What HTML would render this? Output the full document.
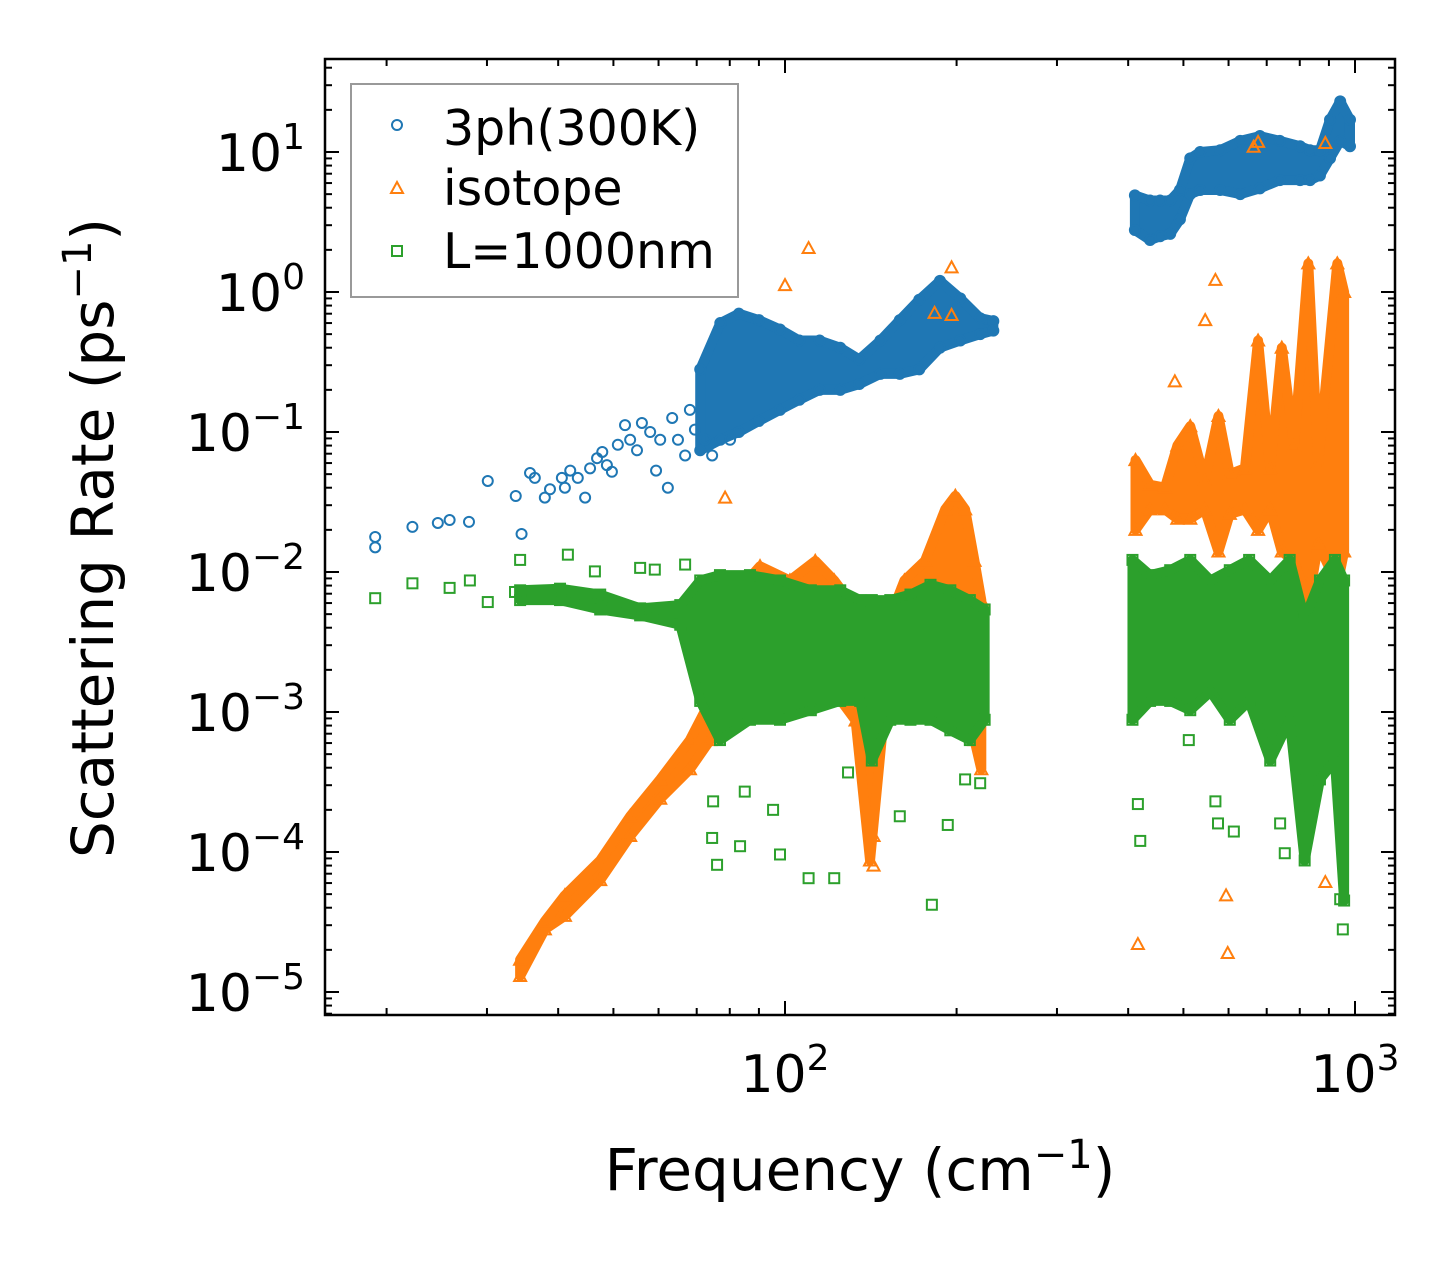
<!DOCTYPE html>
<html><head><meta charset="utf-8"><style>
body{margin:0;background:#fff;}
svg{display:block;font-family:"DejaVu Sans","Liberation Sans",sans-serif;}
</style></head><body>
<svg id="chart" width="1455" height="1265" viewBox="0 0 1455 1265" xmlns="http://www.w3.org/2000/svg">
<rect width="1455" height="1265" fill="#fff"/>
<g id="bands"></g><g id="marks"></g><g id="axes"></g>
<g>
<rect x="351" y="84" width="387" height="213" fill="#fff" fill-opacity="0.8" stroke="#999" stroke-width="2"/>
<circle cx="397" cy="125" r="5" fill="none" stroke="#1f77b4" stroke-width="2"/>
<text x="443" y="145" font-size="49">3ph(300K)</text>
<path d="M391,193 L397,182 L403,193 Z" fill="none" stroke="#ff7f0e" stroke-width="2"/>
<text x="443" y="205" font-size="49">isotope</text>
<rect x="392" y="246" width="10" height="10" fill="none" stroke="#2ca02c" stroke-width="2"/>
<text x="443" y="268" font-size="49">L=1000nm</text>
</g>
</svg>
<script>
// ---- data ----
const blueSparseF=[19.1,19.1,22.2,24.6,25.8,27.9,30.1,33.7,34.5,35.7,36.4,37.9,38.7,40.6,41.1,42.0,43.3,44.6,45.5,46.8,47.8,48.7,49.7,50.9,52.4,53.5,55.0,56.1,58.0,59.4,60.4,62.3,63.4,64.9,66.8,68.1,69.5,72.4,74.5,80.1];
const blueSparseR=[0.0178,0.015,0.021,0.0224,0.0235,0.0228,0.0447,0.0349,0.0187,0.051,0.047,0.034,0.039,0.047,0.04,0.053,0.047,0.034,0.055,0.065,0.072,0.058,0.052,0.081,0.112,0.088,0.074,0.116,0.1,0.053,0.088,0.04,0.126,0.088,0.068,0.144,0.104,0.088,0.068,0.088];
const blueBandF=[71,77,83,90,98,106,115,125,135,147,159,172,187,203,220,232];
const blueBandLo=[0.074,0.088,0.1,0.12,0.144,0.17,0.2,0.2,0.22,0.26,0.26,0.28,0.4,0.45,0.5,0.53];
const blueBandHi=[0.28,0.6,0.7,0.63,0.54,0.45,0.45,0.4,0.33,0.45,0.63,0.88,1.2,0.9,0.65,0.62];
const blueHiF=[411,437,455,474,493,514,535,580,629,681,738,801,834,868,904,942,980];
const blueHiLo=[2.77,2.35,2.5,2.6,3.3,5,5.35,5.35,5,5.5,6.3,6.3,6.3,6.8,9,12,11];
const blueHiHi=[4.9,4.5,4.5,4.5,5.35,9,10,10.3,12,13,12,11,10.3,10.3,17,23,17];

const orBandF=[34.3,37.9,41.1,47.4,53.5,60.4,68.1,73.9,80.1,90.4,102,113,122,133,141,150,162,176,191,199,207,215,221];
const orBandLo=[1.3e-5,2.8e-5,3.5e-5,6.3e-5,1.3e-4,2.4e-4,3.9e-4,6.3e-4,8.7e-4,1.2e-3,1e-3,1.2e-3,1.4e-3,8.7e-4,8.7e-5,1.2e-3,1.2e-3,1.2e-3,1.2e-3,1e-3,8.8e-4,6.3e-4,3.9e-4];
const orBandHi=[1.7e-5,3.2e-5,4.9e-5,8.7e-5,1.8e-4,3.3e-4,6.3e-4,1.2e-3,6.3e-3,1.1e-2,8.7e-3,1.2e-2,8.7e-3,5.4e-3,3.9e-3,3.9e-3,8.7e-3,1.2e-2,2.8e-2,3.5e-2,2.8e-2,1.2e-2,6.3e-3];
const orHiF=[412,437,464,488,514,545,576,603,641,676,710,744,782,828,862,931,957];
const orHiLo=[0.02,0.028,0.028,0.024,0.024,0.028,0.014,0.026,0.028,0.02,0.028,0.014,0.012,0.006,0.016,0.008,0.014];
const orHiHi=[0.063,0.042,0.04,0.08,0.11,0.045,0.13,0.05,0.055,0.45,0.055,0.4,0.08,1.6,0.06,1.6,1.0];
const orSparseF=[110,100,78.5,196,183,196,416,598,569,546,483,594,887,887,676,664,143,143];
const orSparseR=[2.06,1.12,0.034,1.5,0.71,0.685,2.2e-5,1.9e-5,1.22,0.63,0.23,4.9e-5,6.1e-5,11.6,11.8,10.9,8e-5,1.3e-4];

const grSparseF=[19.1,22.2,25.8,28,30.1,33.6,34.3,41.6,46.4,55.7,59.1,66.8,74.8,74.5,76.0,83.4,85,95.3,98,110,122,129,159,181,193,207,220,416,420,511,569,575,613,739,753,942,952];
const grSparseR=[6.5e-3,8.3e-3,7.7e-3,8.7e-3,6.1e-3,7.2e-3,0.0122,0.0133,0.0101,0.0107,0.0104,0.0113,2.3e-4,1.26e-4,8.1e-5,1.1e-4,2.7e-4,2e-4,9.6e-5,6.5e-5,6.5e-5,3.7e-4,1.8e-4,4.2e-5,1.56e-4,3.3e-4,3.1e-4,2.2e-4,1.2e-4,6.3e-4,2.3e-4,1.6e-4,1.4e-4,1.6e-4,9.8e-5,4.6e-5,2.8e-5];
const grBandF=[34.3,40.3,47.4,55.7,65.5,71,76.9,86.8,98,111,125,135.5,142,153,166,180,195,211,224];
const grBandLo=[6.3e-3,6.3e-3,5.4e-3,4.9e-3,4.2e-3,1.2e-3,6.3e-4,8.8e-4,8.8e-4,1.03e-3,1.2e-3,1.2e-3,4.5e-4,8.8e-4,8.8e-4,8.8e-4,7.4e-4,6.3e-4,8.8e-4];
const grBandHi=[7.4e-3,7.6e-3,6.9e-3,5.5e-3,5.8e-3,8.7e-3,9.5e-3,9.5e-3,8.7e-3,7.4e-3,7.4e-3,6.3e-3,6.3e-3,6.3e-3,6.9e-3,8.1e-3,7.4e-3,6.3e-3,5.4e-3];
const grHiF=[407,437,474,514,558,603,652,710,768,816,868,922,957];
const grHiLo=[8.8e-4,1.2e-3,1.2e-3,1.03e-3,1.4e-3,8.8e-4,1.2e-3,4.5e-4,8.8e-4,8.7e-5,3.3e-4,4.5e-4,4.5e-5];
const grHiHi=[0.0122,9.5e-3,0.0103,0.0122,8.7e-3,0.0103,0.0122,8.7e-3,0.0122,4.6e-3,8.7e-3,0.0122,8.7e-3];

const xTickVals=[100,1000];
const yTickExps=[1,0,-1,-2,-3,-4,-5];

// ---- axes ----
const L=325,R=1395,T=59,B=1015;
const X=f=>785+570*Math.log10(f/100);
const Y=r=>152-140*Math.log10(r/10);
const NS="http://www.w3.org/2000/svg";
function mk(tag,parent,attrs){const e=document.createElementNS(NS,tag);for(const k in attrs)e.setAttribute(k,attrs[k]);parent.appendChild(e);return e;}
const marks=document.getElementById('marks'),axes=document.getElementById('axes');
const COL={b:'#1f77b4',o:'#ff7f0e',g:'#2ca02c'};

function marker(type,f,r,name){
  const x=X(f),y=Y(r);let e;
  if(type==='b'){e=mk('circle',marks,{cx:x,cy:y,r:5,fill:'none',stroke:COL.b,'stroke-width':2});}
  else if(type==='o'){e=mk('path',marks,{d:`M${x-6},${y+5} L${x},${y-6} L${x+6},${y+5} Z`,fill:'none',stroke:COL.o,'stroke-width':2});}
  else{e=mk('rect',marks,{x:x-5,y:y-5,width:10,height:10,fill:'none',stroke:COL.g,'stroke-width':2});}
  
  
}
function band(type,F,Lo,Hi,name){
  const g=mk('g',marks,{});
  
  
  let d='M'+F.map((f,i)=>X(f)+','+Y(Hi[i])).join(' L')+' L'+F.map((f,i)=>X(f)+','+Y(Lo[i])).reverse().join(' L')+' Z';
  mk('path',g,{d:d,fill:COL[type],stroke:COL[type],'stroke-width':10,'stroke-linejoin':'round'});
  F.forEach((f,i)=>{marker(type,f,Lo[i],name+'-point');marker(type,f,Hi[i],name+'-point');});
}
band('b',blueBandF,blueBandLo,blueBandHi,'3ph-band-low');
band('b',blueHiF,blueHiLo,blueHiHi,'3ph-band-high');
blueSparseF.forEach((f,i)=>marker('b',f,blueSparseR[i],'3ph-point'));
band('o',orBandF,orBandLo,orBandHi,'isotope-band-low');
band('o',orHiF,orHiLo,orHiHi,'isotope-band-high');
orSparseF.forEach((f,i)=>marker('o',f,orSparseR[i],'isotope-point'));
band('g',grBandF,grBandLo,grBandHi,'boundary-band-low');
band('g',grHiF,grHiLo,grHiHi,'boundary-band-high');
grSparseF.forEach((f,i)=>marker('g',f,grSparseR[i],'boundary-point'));

const sp=mk('rect',axes,{x:L,y:T,width:R-L,height:B-T,fill:'none',stroke:'#000','stroke-width':2.5});


for(let dec=10;dec<=1000;dec*=10){for(let m=1;m<10;m++){const v=dec*m;const x=X(v);if(x<L||x>R)continue;const len=(m===1)?14:7;
  mk('line',axes,{x1:x,y1:B,x2:x,y2:B-len,stroke:'#000','stroke-width':2});
  mk('line',axes,{x1:x,y1:T,x2:x,y2:T+len,stroke:'#000','stroke-width':2});}}
xTickVals.forEach(v=>{const t=mk('text',axes,{x:X(v),y:1092,'font-size':52,'text-anchor':'middle'});
  
  
  t.innerHTML='10<tspan dy="-22" font-size="36">'+Math.round(Math.log10(v))+'</tspan>';});
for(let e=-6;e<=1;e++){for(let m=1;m<10;m++){const v=m*Math.pow(10,e);const y=Y(v);if(y<T||y>B)continue;const len=(m===1)?14:7;
  mk('line',axes,{x1:L,y1:y,x2:L+len,y2:y,stroke:'#000','stroke-width':2});
  mk('line',axes,{x1:R,y1:y,x2:R-len,y2:y,stroke:'#000','stroke-width':2});}}
yTickExps.forEach(e=>{const y=Y(Math.pow(10,e));const t=mk('text',axes,{x:305,y:y+19,'font-size':52,'text-anchor':'end'});
  
  
  t.innerHTML='10<tspan dy="-22" font-size="36">'+(e<0?'\u2212'+(-e):e)+'</tspan>';});
const xt=mk('text',axes,{x:860,y:1190,'font-size':58,'text-anchor':'middle'});


xt.innerHTML='Frequency (cm<tspan dy="-22" font-size="40">\u22121</tspan><tspan dy="22">)</tspan>';
const yt=mk('text',axes,{x:0,y:0,'font-size':58,'text-anchor':'middle',transform:'translate(113,538) rotate(-90)'});


yt.innerHTML='Scattering Rate (ps<tspan dy="-22" font-size="40">\u22121</tspan><tspan dy="22">)</tspan>';
</script>
</body></html>
